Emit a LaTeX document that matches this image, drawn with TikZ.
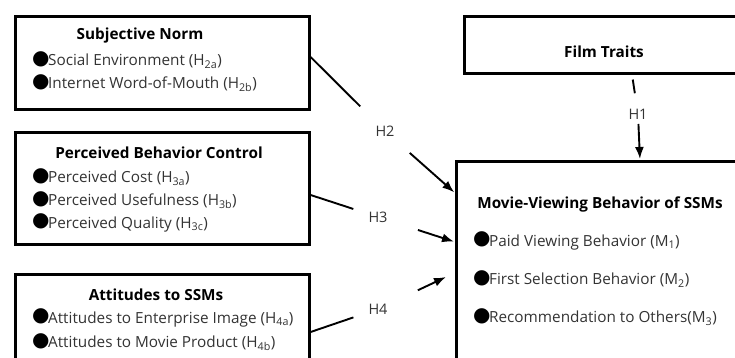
\documentclass[tikz,border=0pt]{standalone}
\usepackage{fontspec}
\setmainfont{Open Sans}
\newfontfamily\symfont{DejaVu Sans}
\usetikzlibrary{arrows.meta}
% big round black bullet in front of each item
\newcommand\bul{{\symfont\fontsize{20}{20}\selectfont\color{black}\raisebox{1.2pt}{●}}\hspace{-1.5pt}}
\begin{document}
\begin{tikzpicture}[x=1pt,y=-1pt,
  box/.style={draw, line width=2.6pt, anchor=north west, inner sep=0pt},
  title/.style={font=\fontsize{15.3}{17}\selectfont\bfseries, inner sep=0pt},
  item/.style={font=\fontsize{15.3}{17}\selectfont, anchor=west, text=black!80, inner sep=0pt},
  hyp/.style={font=\fontsize{14.5}{16}\selectfont, text=black!80, inner sep=0pt},
  conn/.style={line width=1.9pt},
  arr/.style={conn, -{Latex[length=12pt,width=9pt]}}]
\useasboundingbox (0,0) rectangle (735,358);
\clip (0,0) rectangle (735,358);

% boxes
\node[box, minimum width=294pt, minimum height=93pt]  (sn)  at (14,15)  {};
\node[box, minimum width=294pt, minimum height=112pt] (pbc) at (14,131) {};
\node[box, minimum width=294pt, minimum height=94pt]  (att) at (14,273) {};
\node[box, minimum width=282pt, minimum height=57pt]  (ft)  at (463,15) {};
\node[box, minimum width=290pt, minimum height=210pt] (mv)  at (455,160) {};

% Subjective Norm
\node[title] (snT) at (140,36) {Subjective Norm};
\node[item] (sn1) at (32,60) {\bul Social Environment (H\textsubscript{2a})};
\node[item] (sn2) at (32,83) {\bul Internet Word-of-Mouth (H\textsubscript{2b})};

% Perceived Behavior Control
\node[title] (pbcT) at (159,153) {Perceived Behavior Control};
\node[item] (pbc1) at (32,177) {\bul Perceived Cost (H\textsubscript{3a})};
\node[item] (pbc2) at (32,200) {\bul Perceived Usefulness (H\textsubscript{3b})};
\node[item] (pbc3) at (32,223) {\bul Perceived Quality (H\textsubscript{3c})};

% Attitudes to SSMs
\node[title] (attT) at (156,295) {Attitudes to SSMs};
\node[item] (att1) at (32,318) {\bul Attitudes to Enterprise Image (H\textsubscript{4a})};
\node[item] (att2) at (32,342) {\bul Attitudes to Movie Product (H\textsubscript{4b})};

% Film Traits
\node[title] (ftT) at (604,52) {Film Traits};

% Movie-Viewing Behavior of SSMs
\node[title] (mvT) at (600,204) {Movie-Viewing Behavior of SSMs};
\node[item] (mv1) at (473,241) {\bul Paid Viewing Behavior (M\textsubscript{1})};
\node[item] (mv2) at (473,279) {\bul First Selection Behavior (M\textsubscript{2})};
\node[item] (mv3) at (473,317) {\bul Recommendation to Others(M\textsubscript{3})};

% hypothesis labels
\node[hyp] (h1) at (638,114) {H1};
\node[hyp] (h2) at (385,131) {H2};
\node[hyp] (h3) at (378,217) {H3};
\node[hyp] (h4) at (378,309) {H4};

% hypothesis paths, broken around their labels
\draw[conn, shorten <=5pt, shorten >=21pt] ([xshift=169pt]ft.south west) -- (h1.center);
\draw[arr, shorten <=10pt, shorten >=1pt] (h1.center) -- ([xshift=185pt]mv.north west);

\draw[conn, shorten >=35pt] ([yshift=-42pt]sn.north east) -- (h2.center);
\draw[arr, shorten <=33pt, shorten >=1pt] (h2.center) -- ([yshift=-33pt]mv.north west);

\draw[conn, shorten >=26pt] ([yshift=-64pt]pbc.north east) -- (h3.center);
\draw[arr, shorten <=42pt, shorten >=1pt] (h3.center) -- ([yshift=-82pt]mv.north west);

\draw[conn, shorten >=26pt] ([yshift=-59pt]att.north east) -- (h4.center);
\draw[arr, shorten <=44pt] (h4.center) -- ([xshift=-9pt,yshift=-117pt]mv.north west);
\end{tikzpicture}
\end{document}
